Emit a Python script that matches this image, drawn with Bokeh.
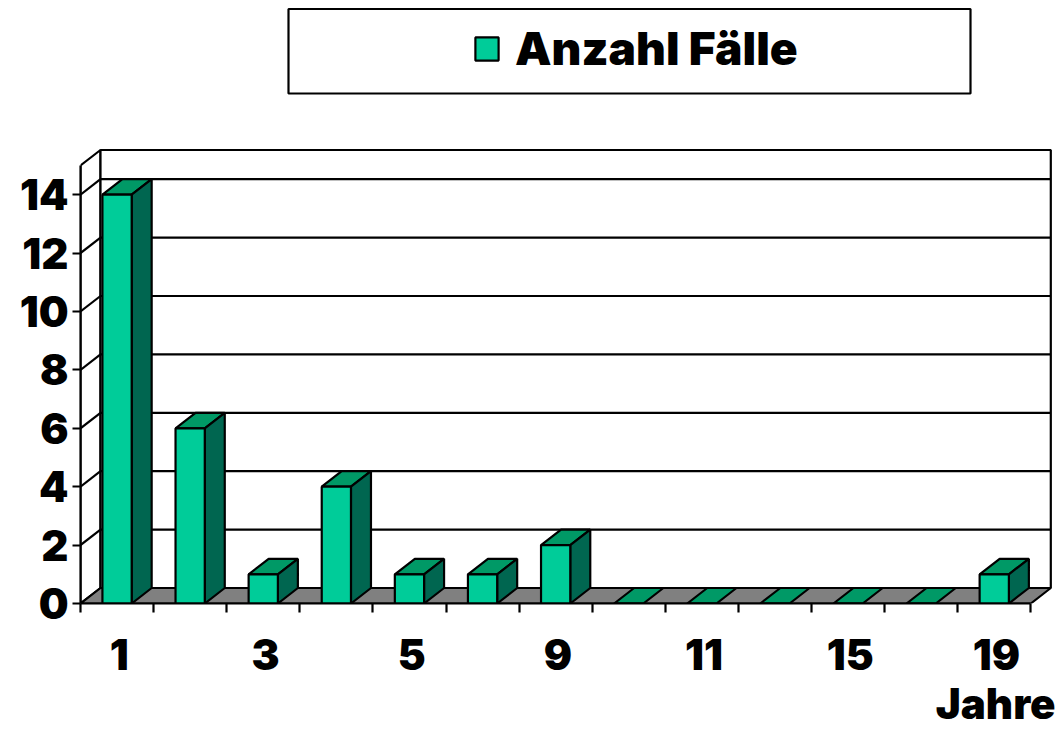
from bokeh.plotting import figure
from bokeh.embed import file_html
from bokeh.resources import INLINE
from bokeh.models import FixedTicker, Legend, LegendItem, BoxAnnotation, Title, Range1d

labels = ["1", "", "3", "", "5", "", "9", "", "11", "", "15", "", "19"]
values = [14, 6, 1, 4, 1, 1, 2, 0, 0, 0, 0, 0, 1]
y_ticks = [0, 2, 4, 6, 8, 10, 12, 14]
series = "Anzahl Fälle"
x_title = "Jahre"

FRONT = "#00CC99"
TOP = "#009966"
SIDE = "#006650"
FLOOR = "#808080"
LW = 2.2
F = "Inter Black"
FS = "42px"

W, H = 1059, 731
LEFT_PAD, BOTTOM_PAD = 80, 128
SLOT = 73.1
UNIT = 29.2
DX = 20 / SLOT
DY = 15.5 / UNIT
YMAX = 15
BAR = 0.4
LABEL_SHIFT = 0.03
n = len(values)

p = figure(width=W, height=H, output_backend="svg", toolbar_location=None,
           min_border_left=LEFT_PAD, min_border_right=0, min_border_top=0,
           min_border_bottom=BOTTOM_PAD, outline_line_color=None,
           background_fill_color="white", border_fill_color="white")
p.x_range = Range1d(0, (W - LEFT_PAD) / SLOT)
p.y_range = Range1d(0, (H - BOTTOM_PAD) / UNIT)
p.grid.visible = False

p.patch([0, DX, DX, 0], [0, DY, YMAX + DY, YMAX], fill_color="white", line_color="black", line_width=LW)
p.patch([DX, n + DX, n + DX, DX], [DY, DY, YMAX + DY, YMAX + DY], fill_color="white", line_color="black", line_width=LW)
gy = [t + DY for t in y_ticks[1:]]
p.segment([DX] * len(gy), gy, [n + DX] * len(gy), gy, line_color="black", line_width=LW)
p.segment([0] * len(gy), y_ticks[1:], [DX] * len(gy), gy, line_color="black", line_width=LW)
p.patch([0, DX, n + DX, n], [0, DY, DY, 0], fill_color=FLOOR, line_color="black", line_width=LW)

lefts = [i + 0.5 - BAR / 2 for i in range(n)]
rights = [i + 0.5 + BAR / 2 for i in range(n)]
for l, r, v in zip(lefts, rights, values):
    p.patch([l, l + DX, r + DX, r], [v, v + DY, v + DY, v], fill_color=TOP, line_color="black", line_width=LW)
    if v > 0:
        p.patch([r, r + DX, r + DX, r], [0, DY, v + DY, v], fill_color=SIDE, line_color="black", line_width=LW)
front = p.quad(left=lefts, right=rights, bottom=[0] * n, top=values,
               fill_color=FRONT, line_color="black", line_width=LW)

ya = p.yaxis[0]
ya.ticker = FixedTicker(ticks=y_ticks)
ya.bounds = (0, YMAX)
ya.axis_line_width = LW
ya.major_tick_line_width = LW
ya.major_tick_in = 0
ya.major_tick_out = 8
ya.minor_tick_line_color = None
ya.major_label_text_font = F
ya.major_label_text_font_size = FS
ya.major_label_text_color = "black"
ya.major_label_standoff = 4

centers = [i + 0.5 + LABEL_SHIFT for i, t in enumerate(labels) if t]
xa = p.xaxis[0]
xa.ticker = FixedTicker(ticks=centers, minor_ticks=list(range(n + 1)))
xa.major_label_overrides = {c: t for c, t in zip(centers, [t for t in labels if t])}
xa.bounds = (0, n)
xa.axis_line_width = LW
xa.major_tick_line_color = None
xa.major_tick_in = 0
xa.major_tick_out = 9
xa.minor_tick_line_color = "black"
xa.minor_tick_line_width = LW
xa.minor_tick_in = 0
xa.minor_tick_out = 9
xa.major_label_text_font = F
xa.major_label_text_font_size = FS
xa.major_label_text_color = "black"
xa.major_label_standoff = 26

p.add_layout(Title(text=x_title, align="right", text_font=F, text_font_size="42px",
                   text_color="black", standoff=6, offset=4), "below")

px_x = lambda page: (page - LEFT_PAD) / SLOT
px_y = lambda page: (H - BOTTOM_PAD - page) / UNIT
p.add_layout(BoxAnnotation(left=px_x(288), right=px_x(970), top=px_y(8.5), bottom=px_y(93),
                           fill_color="white", fill_alpha=1, line_color="black", line_alpha=1, line_width=LW))
legend = Legend(items=[LegendItem(label=series, renderers=[front])], location=(392, 527),
                border_line_color=None, background_fill_alpha=0, padding=0, margin=0,
                glyph_width=29, glyph_height=29, label_standoff=14,
                label_text_font=F, label_text_font_size="46px",
                label_text_color="black")
p.add_layout(legend, "center")

open("out.html", "w").write(file_html(p, INLINE))
